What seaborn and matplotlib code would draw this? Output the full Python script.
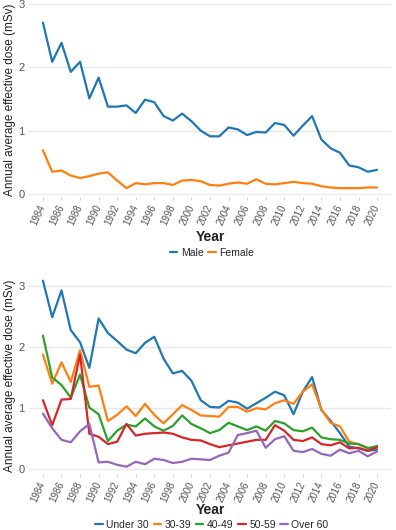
import numpy as np
import pandas as pd
import matplotlib
matplotlib.use("Agg")
import matplotlib.pyplot as plt
import seaborn as sns

years = list(range(1984, 2021))

male = [2.71, 2.09, 2.39, 1.93, 2.09, 1.51, 1.84, 1.38, 1.38, 1.40, 1.28, 1.49, 1.45, 1.23, 1.16, 1.27, 1.15, 1.00,
        0.91, 0.91, 1.05, 1.02, 0.93, 0.98, 0.97, 1.12, 1.09, 0.92, 1.08, 1.23, 0.86, 0.72, 0.65, 0.45, 0.42, 0.35, 0.38]
female = [0.69, 0.35, 0.37, 0.29, 0.25, 0.28, 0.32, 0.34, 0.21, 0.09, 0.17, 0.15, 0.17, 0.17, 0.14, 0.21, 0.22, 0.20,
          0.14, 0.13, 0.16, 0.18, 0.16, 0.23, 0.16, 0.15, 0.17, 0.19, 0.17, 0.16, 0.12, 0.10, 0.09, 0.09, 0.09, 0.10, 0.10]

under30 = [3.09, 2.49, 2.93, 2.28, 2.08, 1.66, 2.47, 2.23, 2.10, 1.96, 1.90, 2.07, 2.17, 1.81, 1.57, 1.61, 1.45, 1.13,
           1.02, 1.01, 1.12, 1.09, 0.99, 1.08, 1.17, 1.27, 1.21, 0.90, 1.27, 1.51, 0.97, 0.79, 0.59, 0.37, 0.34, 0.30, 0.32]
age30_39 = [1.88, 1.40, 1.75, 1.43, 1.95, 1.35, 1.37, 0.79, 0.89, 1.03, 0.87, 1.07, 0.89, 0.75, 0.90, 1.05, 0.97, 0.88,
            0.87, 0.86, 1.02, 1.02, 0.94, 1.00, 0.98, 1.08, 1.13, 1.07, 1.27, 1.39, 0.98, 0.76, 0.70, 0.45, 0.41, 0.35, 0.35]
age40_49 = [2.19, 1.50, 1.38, 1.17, 1.55, 1.01, 0.90, 0.46, 0.63, 0.73, 0.70, 0.83, 0.70, 0.63, 0.71, 0.88, 0.74, 0.67,
            0.59, 0.64, 0.76, 0.70, 0.64, 0.70, 0.63, 0.79, 0.75, 0.64, 0.62, 0.68, 0.52, 0.49, 0.48, 0.42, 0.41, 0.34, 0.38]
age50_59 = [1.13, 0.72, 1.14, 1.15, 1.88, 0.58, 0.53, 0.41, 0.45, 0.74, 0.55, 0.58, 0.59, 0.60, 0.58, 0.52, 0.48, 0.47,
            0.41, 0.36, 0.39, 0.42, 0.45, 0.48, 0.48, 0.72, 0.63, 0.48, 0.46, 0.52, 0.41, 0.39, 0.44, 0.34, 0.35, 0.30, 0.36]
over60 = [0.91, 0.67, 0.48, 0.44, 0.62, 0.74, 0.11, 0.12, 0.07, 0.04, 0.12, 0.08, 0.17, 0.15, 0.10, 0.12, 0.17, 0.16,
          0.15, 0.22, 0.27, 0.56, 0.59, 0.63, 0.35, 0.49, 0.54, 0.30, 0.28, 0.33, 0.25, 0.22, 0.32, 0.26, 0.30, 0.21, 0.29]

sex_labels = ["Male", "Female"]
age_labels = ["Under 30", "30-39", "40-49", "50-59", "Over 60"]
tick_years = list(range(1984, 2021, 2))
colors = ["#1f77b4", "#ff7f0e", "#2ca02c", "#d62728", "#9467bd"]

sns.set_theme(style="white")
plt.rcParams['font.family'] = ['Liberation Sans', 'DejaVu Sans']

df_sex = pd.DataFrame({"Year": years * 2,
                       "dose": male + female,
                       "group": [sex_labels[0]] * len(years) + [sex_labels[1]] * len(years)})
age_series = [under30, age30_39, age40_49, age50_59, over60]
df_age = pd.DataFrame({"Year": years * 5,
                       "dose": sum(age_series, []),
                       "group": sum([[lab] * len(years) for lab in age_labels], [])})

fig = plt.figure(figsize=(3.96, 5.30), dpi=100)
W, H = 396, 530
ax1 = fig.add_axes([29 / W, 1 - 197 / H, 362 / W, 194 / H])
ax2 = fig.add_axes([29 / W, 1 - 474 / H, 362 / W, 197 / H])

def style(ax, df, labels, ylim, ncol, year_y, leg_y):
    sns.lineplot(data=df, x="Year", y="dose", hue="group", hue_order=labels,
                 palette=colors[:len(labels)], linewidth=1.6, ax=ax)
    ax.set_xlim(1982.5, 2021.5)
    ax.set_ylim(*ylim)
    ax.set_yticks([0, 1, 2, 3])
    ax.set_xticks(tick_years)
    ax.set_xticklabels([str(y) for y in tick_years], rotation=65, ha="right", va="center",
                       rotation_mode="anchor", fontsize=7, color="#555555")
    ax.tick_params(axis="y", labelsize=8, labelcolor="#555555", length=0, pad=3)
    ax.tick_params(axis="x", length=2, width=0.6, color="#cccccc", pad=4, bottom=True)
    ax.grid(axis="y", color="#e8e8e8", linewidth=1.0)
    ax.grid(axis="x", visible=False)
    for s in ax.spines.values():
        s.set_visible(False)
    ax.set_ylabel("Annual average effective dose (mSv)", fontsize=8.5, color="#222222", labelpad=2)
    ax.set_xlabel("Year", fontsize=10, fontweight="bold", color="#222222", va="center")
    ax.xaxis.set_label_coords(210 / W, 1 - year_y / H, transform=fig.transFigure)
    h, l = ax.get_legend_handles_labels()
    ax.legend(h, l, loc="center", bbox_to_anchor=(0.5 + 14 / W, 1 - leg_y / H),
              bbox_transform=fig.transFigure, ncol=ncol, frameon=False,
              fontsize=7.5, handlelength=0.7, handletextpad=0.35, columnspacing=0.45,
              borderaxespad=0, borderpad=0)

style(ax1, df_sex, sex_labels, (-0.05, 3.02), 2, 237, 253)
style(ax2, df_age, age_labels, (-0.08, 3.15), 5, 510, 525)

fig.savefig("out.png", dpi=100)
